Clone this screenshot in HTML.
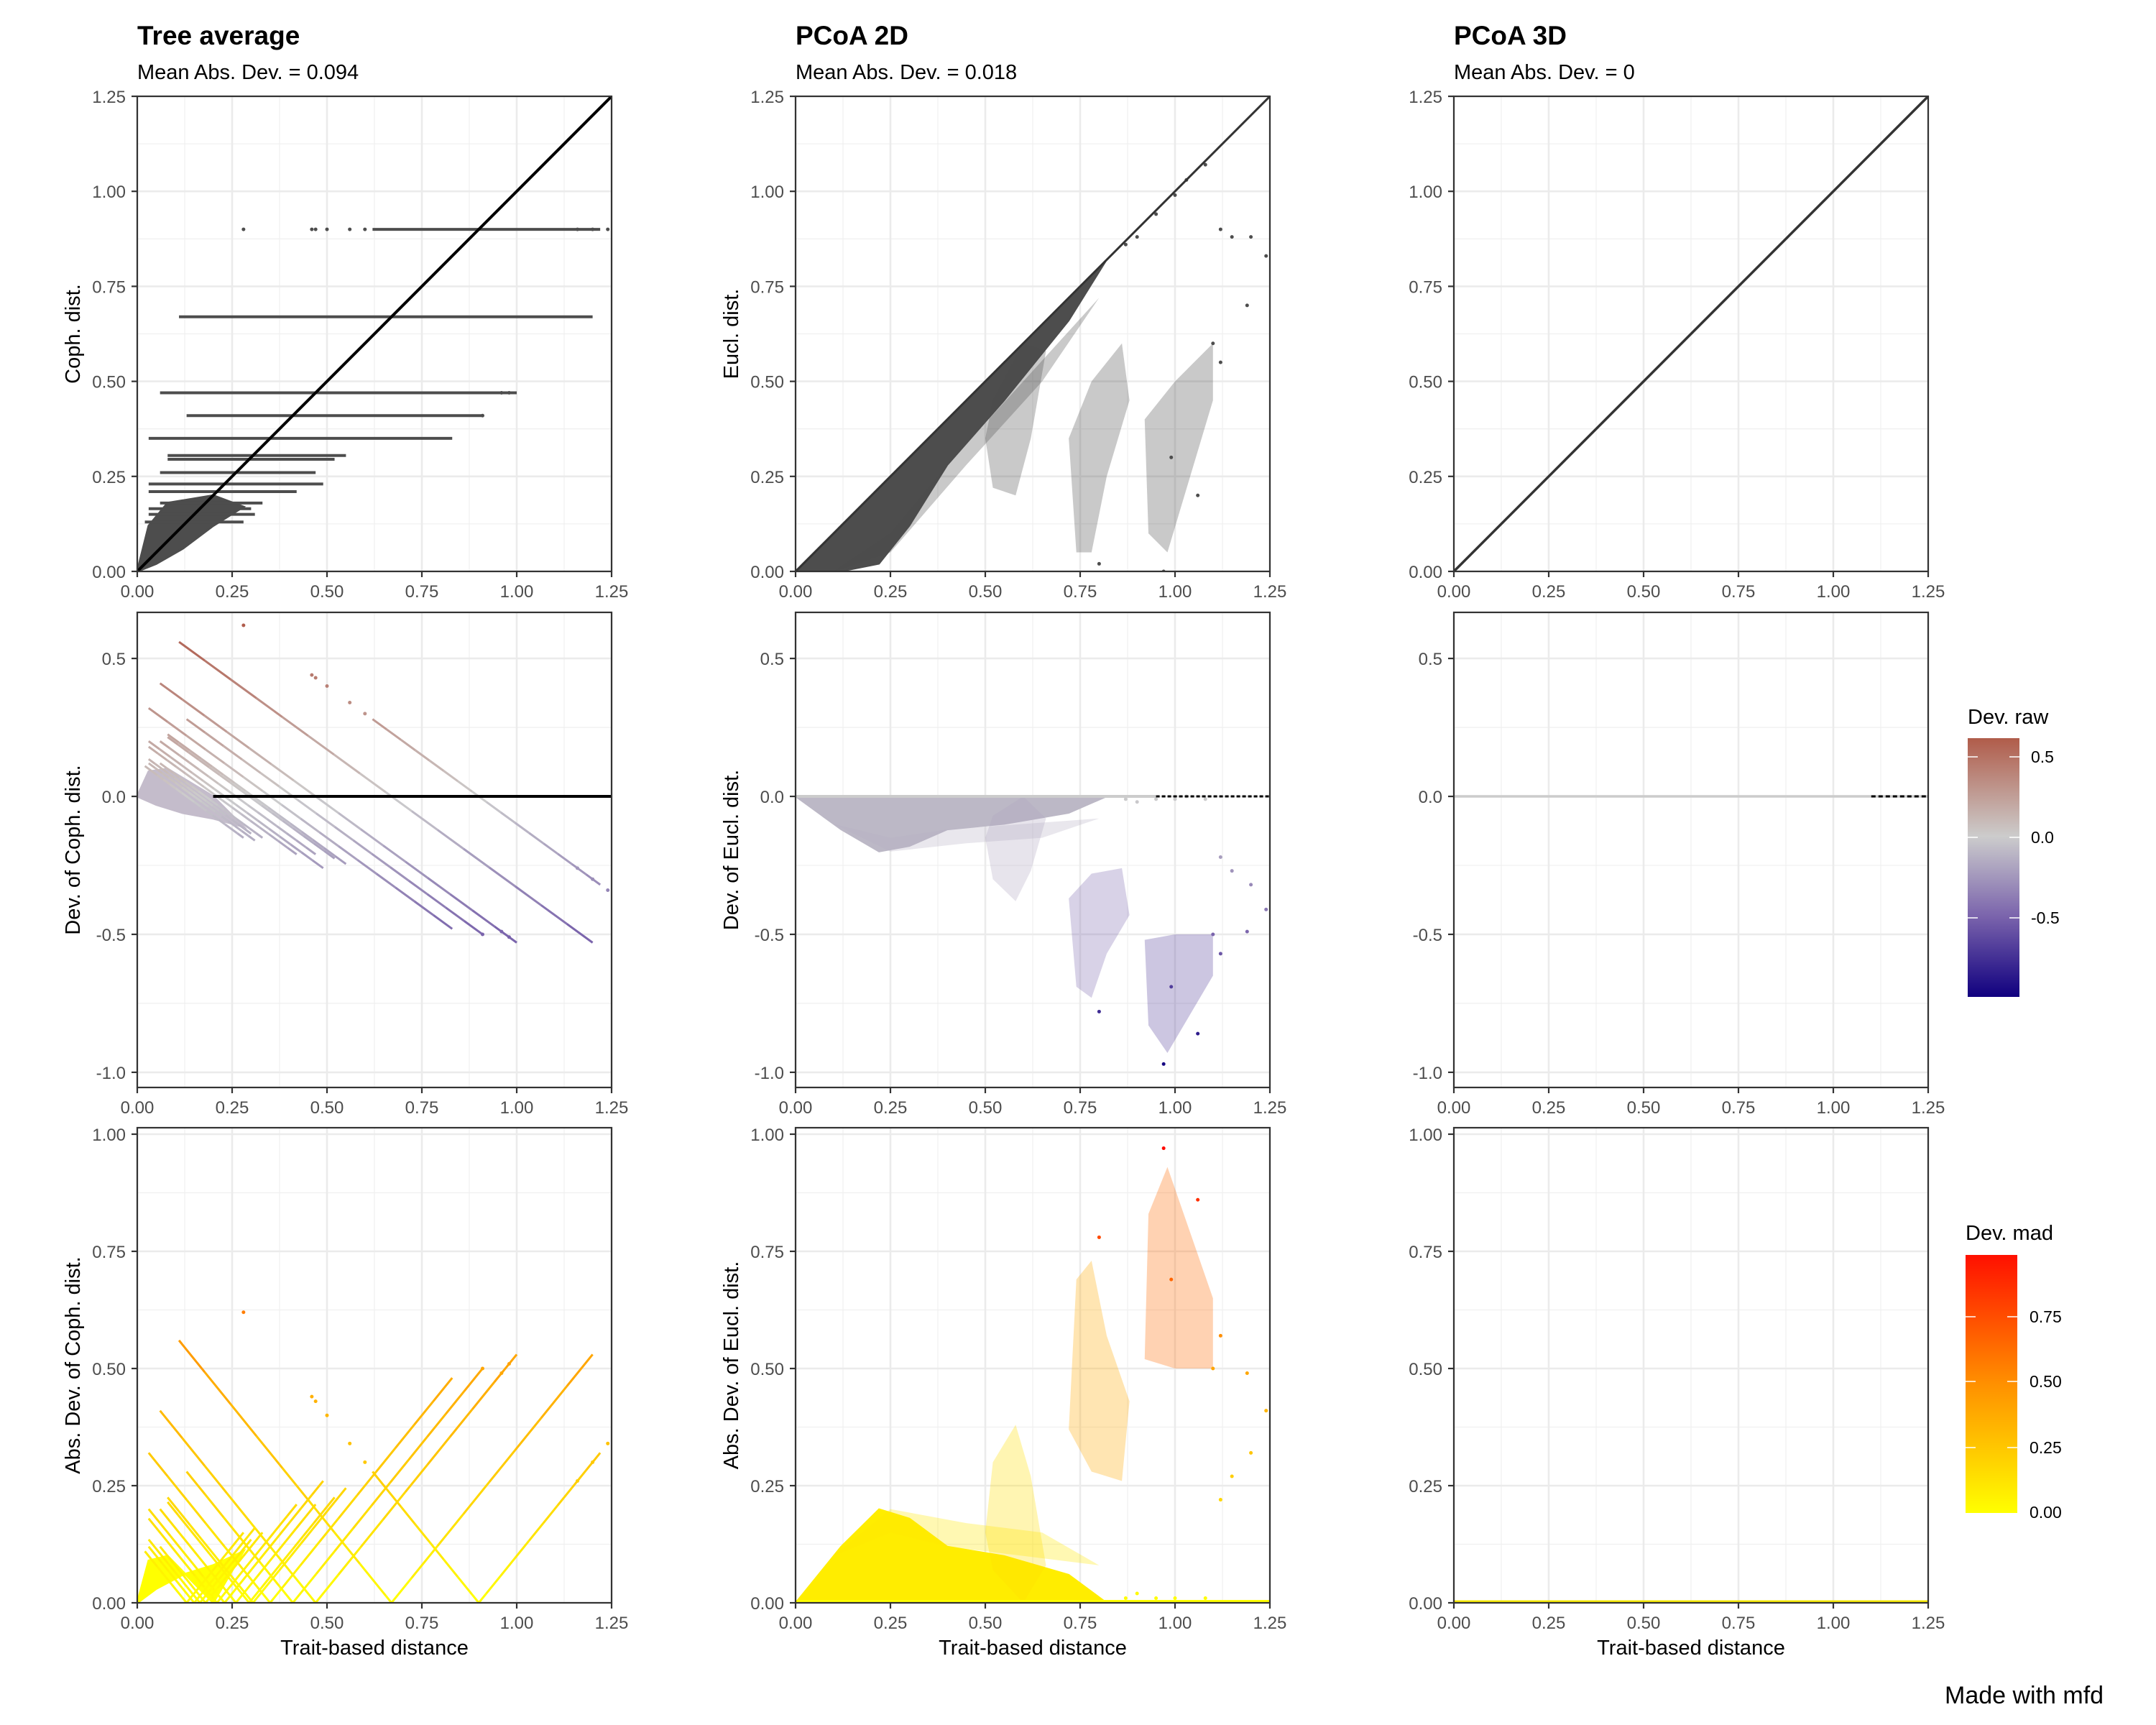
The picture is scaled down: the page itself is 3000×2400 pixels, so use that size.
<!DOCTYPE html>
<html><head><meta charset="utf-8"><style>
html,body{margin:0;padding:0;background:#fff}
svg{display:block;font-family:"Liberation Sans",Arial,sans-serif}
</style></head><body>
<svg id="fig" width="3000" height="2400" viewBox="0 0 3000 2400" xmlns="http://www.w3.org/2000/svg">
<defs>
<linearGradient id="gradRaw" x1="0" y1="0" x2="0" y2="1">
<stop offset="0" stop-color="#b05c4a"/><stop offset="0.38" stop-color="#cccccc"/><stop offset="0.69" stop-color="#7a63ac"/><stop offset="1" stop-color="#10007f"/>
</linearGradient>
<linearGradient id="gradMad" x1="0" y1="0" x2="0" y2="1">
<stop offset="0" stop-color="#ff1000"/><stop offset="0.5" stop-color="#ff9000"/><stop offset="1" stop-color="#ffff00"/>
</linearGradient>
</defs>
<g id="layer"></g>
<g>
<text x="2738" y="1007" font-size="29" fill="#000">Dev. raw</text>
<rect x="2738" y="1027" width="72" height="360" fill="url(#gradRaw)"/>
<g stroke="#fff" stroke-width="1.5"><line x1="2738" x2="2752" y1="1053" y2="1053"/><line x1="2796" x2="2810" y1="1053" y2="1053"/><line x1="2738" x2="2752" y1="1165" y2="1165"/><line x1="2796" x2="2810" y1="1165" y2="1165"/><line x1="2738" x2="2752" y1="1277" y2="1277"/><line x1="2796" x2="2810" y1="1277" y2="1277"/></g>
<g font-size="23" fill="#000"><text x="2826" y="1061">0.5</text><text x="2826" y="1173">0.0</text><text x="2826" y="1285">-0.5</text></g>
</g>
<g>
<text x="2735" y="1725" font-size="29" fill="#000">Dev. mad</text>
<rect x="2735" y="1746" width="72" height="359" fill="url(#gradMad)"/>
<g stroke="#fff" stroke-width="1.5"><line x1="2735" x2="2749" y1="1832" y2="1832"/><line x1="2793" x2="2807" y1="1832" y2="1832"/><line x1="2735" x2="2749" y1="1922" y2="1922"/><line x1="2793" x2="2807" y1="1922" y2="1922"/><line x1="2735" x2="2749" y1="2014" y2="2014"/><line x1="2793" x2="2807" y1="2014" y2="2014"/></g>
<g font-size="23" fill="#000"><text x="2824" y="1840">0.75</text><text x="2824" y="1930">0.50</text><text x="2824" y="2022">0.25</text><text x="2824" y="2112">0.00</text></g>
</g>
<text x="2706" y="2370" font-size="34" fill="#000">Made with mfd</text>
</svg>
<script>
// ---- data ----
const colTitles = ["Tree average", "PCoA 2D", "PCoA 3D"];
const colSubtitles = ["Mean Abs. Dev. = 0.094", "Mean Abs. Dev. = 0.018", "Mean Abs. Dev. = 0"];
const yTitlesCol1 = ["Coph. dist.", "Dev. of Coph. dist.", "Abs. Dev. of Coph. dist."];
const yTitlesCol2 = ["Eucl. dist.", "Dev. of Eucl. dist.", "Abs. Dev. of Eucl. dist."];
const xTicks = [0, 0.25, 0.5, 0.75, 1.0, 1.25];
const xTickLabels = ["0.00", "0.25", "0.50", "0.75", "1.00", "1.25"];
const yTicksRow1 = [0, 0.25, 0.5, 0.75, 1.0, 1.25];
const yTickLabelsRow1 = ["0.00", "0.25", "0.50", "0.75", "1.00", "1.25"];
const yTicksRow2 = [-1.0, -0.5, 0, 0.5];
const yTickLabelsRow2 = ["-1.0", "-0.5", "0.0", "0.5"];
const yTicksRow3 = [0, 0.25, 0.5, 0.75, 1.0];
const yTickLabelsRow3 = ["0.00", "0.25", "0.50", "0.75", "1.00"];
// Tree average: cophenetic levels and trait-distance extents of each horizontal band
const treeLevels = [0.90, 0.67, 0.47, 0.41, 0.35, 0.305, 0.295, 0.26, 0.23, 0.21, 0.18, 0.165, 0.15, 0.13];
const treeStart  = [0.62, 0.11, 0.06, 0.13, 0.03, 0.08, 0.08, 0.06, 0.03, 0.03, 0.06, 0.03, 0.03, 0.02];
const treeEnd    = [1.22, 1.20, 1.00, 0.91, 0.83, 0.55, 0.52, 0.47, 0.49, 0.42, 0.33, 0.30, 0.31, 0.28];
const treeOutX = [0.28, 0.46, 0.47, 0.5, 0.56, 0.6, 1.24, 1.2, 1.16, 0.91, 0.96, 0.98];
const treeOutY = [0.90, 0.90, 0.90, 0.90, 0.90, 0.90, 0.90, 0.90, 0.90, 0.41, 0.47, 0.47];
const treeBlobX = [0, 0.03, 0.08, 0.2, 0.28, 0.2, 0.12, 0.05];
const treeBlobY = [0, 0.12, 0.18, 0.2, 0.17, 0.12, 0.06, 0.02];
// PCoA 2D clusters (trait distance, euclidean distance) polygons; dense flag
const pcoaClusterX = [
  [0, 0.82, 0.72, 0.55, 0.40, 0.30, 0.22, 0.12],
  [0.10, 0.25, 0.45, 0.65, 0.80, 0.60, 0.40, 0.25],
  [0.50, 0.52, 0.60, 0.66, 0.62, 0.58, 0.52],
  [0.74, 0.72, 0.78, 0.86, 0.88, 0.82, 0.78],
  [0.93, 0.92, 1.00, 1.10, 1.10, 1.04, 0.98]
];
const pcoaClusterY = [
  [0, 0.82, 0.66, 0.45, 0.28, 0.12, 0.02, 0],
  [0, 0.05, 0.28, 0.50, 0.72, 0.50, 0.28, 0.10],
  [0.35, 0.45, 0.60, 0.58, 0.35, 0.20, 0.22],
  [0.05, 0.35, 0.50, 0.60, 0.45, 0.25, 0.05],
  [0.10, 0.40, 0.50, 0.60, 0.45, 0.25, 0.05]
];
const pcoaClusterDense = [1, 0, 0, 0, 0];
const pcoaOutX = [1.12, 1.15, 1.2, 1.24, 1.19, 0.87, 0.9, 0.95, 1.0, 1.03, 1.12, 1.1, 0.97, 0.8, 1.08, 1.06, 0.99];
const pcoaOutY = [0.9, 0.88, 0.88, 0.83, 0.7, 0.86, 0.88, 0.94, 0.99, 1.03, 0.55, 0.6, 0.0, 0.02, 1.07, 0.2, 0.3];
const pcoa3dBlackX = [1.1, 1.25];

// ---- layout ----
const colLeft = [191, 1107, 2023];
const rowTop = [134, 852, 1569];
const W = 660, H = 661;
const yRange = [[0, 1.25], [-1.055, 0.667], [0, 1.0138]];
const NS = "http://www.w3.org/2000/svg";
const layer = document.getElementById("layer");
function px(c, v) { return colLeft[c] + v / 1.25 * W; }
function py(r, v) { const lo = yRange[r][0], hi = yRange[r][1]; return rowTop[r] + H - (v - lo) / (hi - lo) * H; }
function mk(tag, attrs, parent) { const e = document.createElementNS(NS, tag); for (const k in attrs) e.setAttribute(k, attrs[k]); (parent || layer).appendChild(e); return e; }
function lerp(a, b, t) { return Math.round(a + (b - a) * t); }
function rawColor(v) {
  if (v >= 0) { const t = Math.min(v / 0.6, 1); return `rgb(${lerp(204,176,t)},${lerp(204,92,t)},${lerp(204,76,t)})`; }
  const t = Math.min(-v, 1);
  if (t < 0.5) { const u = t / 0.5; return `rgb(${lerp(204,122,u)},${lerp(204,100,u)},${lerp(204,172,u)})`; }
  const u = (t - 0.5) / 0.5; return `rgb(${lerp(122,16,u)},${lerp(100,0,u)},${lerp(172,127,u)})`;
}
function madColor(v) {
  const t = Math.min(Math.abs(v), 1);
  if (t < 0.5) return `rgb(255,${lerp(255,165,t/0.5)},0)`;
  return `rgb(255,${lerp(165,0,(t-0.5)/0.5)},0)`;
}
const yTicksAll = [yTicksRow1, yTicksRow2, yTicksRow3];
const yLabelsAll = [yTickLabelsRow1, yTickLabelsRow2, yTickLabelsRow3];

function drawPanel(c, r) {
  const g = mk("g", {});
  
  
  const L = colLeft[c], T = rowTop[r];
  mk("rect", { x: L, y: T, width: W, height: H, fill: "#fff" }, g);
  for (let i = 0; i < xTicks.length - 1; i++) {
    const m = (xTicks[i] + xTicks[i + 1]) / 2;
    mk("line", { x1: px(c, m), x2: px(c, m), y1: T, y2: T + H, stroke: "#f0f0f0", "stroke-width": 1.3 }, g);
  }
  const yt = yTicksAll[r];
  for (let i = 0; i < yt.length - 1; i++) {
    const m = (yt[i] + yt[i + 1]) / 2;
    mk("line", { x1: L, x2: L + W, y1: py(r, m), y2: py(r, m), stroke: "#f0f0f0", "stroke-width": 1.3 }, g);
  }
  xTicks.forEach(v => mk("line", { x1: px(c, v), x2: px(c, v), y1: T, y2: T + H, stroke: "#ebebeb", "stroke-width": 2.6 }, g));
  yt.forEach(v => mk("line", { x1: L, x2: L + W, y1: py(r, v), y2: py(r, v), stroke: "#ebebeb", "stroke-width": 2.6 }, g));
  const data = mk("g", {}, g);
  
  
  const clip = mk("clipPath", { id: "clip" + c + r }, g);
  mk("rect", { x: L, y: T, width: W, height: H }, clip);
  data.setAttribute("clip-path", "url(#clip" + c + r + ")");
  drawData(c, r, data);
  mk("rect", { x: L, y: T, width: W, height: H, fill: "none", stroke: "#333", "stroke-width": 2.2 }, g);
  xTicks.forEach((v, i) => {
    mk("line", { x1: px(c, v), x2: px(c, v), y1: T + H, y2: T + H + 8, stroke: "#333", "stroke-width": 2.2 }, g);
    const t = mk("text", { x: px(c, v), y: T + H + 36, "text-anchor": "middle", "font-size": 24, fill: "#4d4d4d" }, g);
    t.textContent = xTickLabels[i];
    
    
  });
  yt.forEach((v, i) => {
    mk("line", { x1: L - 8, x2: L, y1: py(r, v), y2: py(r, v), stroke: "#333", "stroke-width": 2.2 }, g);
    const t = mk("text", { x: L - 16, y: py(r, v) + 9, "text-anchor": "end", "font-size": 24, fill: "#4d4d4d" }, g);
    t.textContent = yLabelsAll[r][i];
    
    
  });
  if (c < 2) {
    const cy = T + H / 2, cx = L - 80;
    const t = mk("text", { x: cx, y: cy, "text-anchor": "middle", "font-size": 29, fill: "#000", transform: `rotate(-90 ${cx} ${cy})` }, g);
    t.textContent = (c === 0 ? yTitlesCol1 : yTitlesCol2)[r];
    
    
  }
  if (r === 2) {
    const t = mk("text", { x: L + W / 2, y: 2302, "text-anchor": "middle", "font-size": 29, fill: "#000" }, g);
    t.textContent = "Trait-based distance";
    
    
  }
  if (r === 0) {
    const t = mk("text", { x: L, y: 62, "font-size": 37, "font-weight": "bold", fill: "#000" }, g);
    t.textContent = colTitles[c];
    
    
    const s = mk("text", { x: L, y: 110, "font-size": 29, fill: "#000" }, g);
    s.textContent = colSubtitles[c];
    
    
  }
}

function yval(r, x, y) { return r === 0 ? y : (r === 1 ? y - x : Math.abs(y - x)); }

function drawData(c, r, g) {
  if (c === 0) {
    const pts = treeBlobX.map((x, i) => px(c, x) + "," + py(r, yval(r, x, treeBlobY[i]))).join(" ");
    const bc = r === 0 ? "#4d4d4d" : (r === 1 ? "#c4bccb" : "#ffff00");
    const blob = mk("polygon", { points: pts, fill: bc, stroke: bc, "stroke-width": 3 }, g);
    
    
    treeLevels.forEach((lv, i) => {
      const x0 = treeStart[i], x1 = treeEnd[i];
      const n = r === 0 ? 1 : 16;
      for (let k = 0; k < n; k++) {
        const a = x0 + (x1 - x0) * k / n, b = x0 + (x1 - x0) * (k + 1) / n;
        const mid = (a + b) / 2;
        const col = r === 0 ? "#4d4d4d" : (r === 1 ? rawColor(lv - mid) : madColor(lv - mid));
        const pieces = (r === 2 && a < lv && b > lv) ? [[a, lv], [lv, b]] : [[a, b]];
        pieces.forEach(p => {
          const s = mk("line", { x1: px(c, p[0]), y1: py(r, yval(r, p[0], lv)), x2: px(c, p[1]), y2: py(r, yval(r, p[1], lv)), stroke: col, "stroke-width": r === 0 ? 4 : 3 }, g);
          
          
        });
      }
    });
    treeOutX.forEach((x, i) => {
      const v = yval(r, x, treeOutY[i]);
      const p = mk("circle", { cx: px(c, x), cy: py(r, v), r: 2.5, fill: r === 0 ? "#4d4d4d" : (r === 1 ? rawColor(v) : madColor(v)) }, g);
      
      
    });
    if (r === 0) {
      const d = mk("line", { x1: px(c, 0), y1: py(r, 0), x2: px(c, 1.25), y2: py(r, 1.25), stroke: "#000", "stroke-width": 4 }, g);
      
      
    } else if (r === 1) {
      const z = mk("line", { x1: px(c, 0.2), y1: py(r, 0), x2: px(c, 1.25), y2: py(r, 0), stroke: "#000", "stroke-width": 4 }, g);
      
      
    }
  } else if (c === 1) {
    pcoaClusterX.forEach((xs, k) => {
      const ys = pcoaClusterY[k];
      const pts = xs.map((x, i) => px(c, x) + "," + py(r, yval(r, x, ys[i]))).join(" ");
      let mean = 0; xs.forEach((x, i) => mean += ys[i] - x); mean /= xs.length;
      const col = r === 0 ? "#4d4d4d" : (r === 1 ? rawColor(mean) : madColor(mean));
      const dense = pcoaClusterDense[k] === 1;
      const p = mk("polygon", { points: pts, fill: col, "fill-opacity": dense ? 1 : 0.3, stroke: dense ? col : "none", "stroke-width": 2 }, g);
      
      
    });
    pcoaOutX.forEach((x, i) => {
      const v = yval(r, x, pcoaOutY[i]);
      const p = mk("circle", { cx: px(c, x), cy: py(r, v), r: 2.5, fill: r === 0 ? "#4d4d4d" : (r === 1 ? rawColor(v) : madColor(v)) }, g);
      
      
    });
    if (r === 0) {
      const d = mk("line", { x1: px(c, 0), y1: py(r, 0), x2: px(c, 1.25), y2: py(r, 1.25), stroke: "#333", "stroke-width": 3 }, g);
      
      
    } else if (r === 1) {
      const z1 = mk("line", { x1: px(c, 0), y1: py(r, 0), x2: px(c, 0.95), y2: py(r, 0), stroke: "#cccccc", "stroke-width": 4 }, g);
      
      
      const z2 = mk("line", { x1: px(c, 0.95), y1: py(r, 0), x2: px(c, 1.25), y2: py(r, 0), stroke: "#000", "stroke-width": 3, "stroke-dasharray": "5 3" }, g);
      
      
    } else {
      const z = mk("line", { x1: px(c, 0), y1: py(r, 0) - 2, x2: px(c, 1.25), y2: py(r, 0) - 2, stroke: "#ffff00", "stroke-width": 4 }, g);
      
      
    }
  } else {
    if (r === 0) {
      const d = mk("line", { x1: px(c, 0), y1: py(r, 0), x2: px(c, 1.25), y2: py(r, 1.25), stroke: "#333", "stroke-width": 3.5 }, g);
      
      
    } else if (r === 1) {
      const z = mk("line", { x1: px(c, 0), y1: py(r, 0), x2: px(c, 1.25), y2: py(r, 0), stroke: "#cccccc", "stroke-width": 3.5 }, g);
      
      
      const b = mk("line", { x1: px(c, pcoa3dBlackX[0]), y1: py(r, 0), x2: px(c, pcoa3dBlackX[1]), y2: py(r, 0), stroke: "#000", "stroke-width": 3, "stroke-dasharray": "6 4" }, g);
      
      
    } else {
      const z = mk("line", { x1: px(c, 0), y1: py(r, 0) - 2, x2: px(c, 1.25), y2: py(r, 0) - 2, stroke: "#f5e800", "stroke-width": 3 }, g);
      
      
    }
  }
}

for (let r = 0; r < 3; r++) for (let c = 0; c < 3; c++) drawPanel(c, r);
</script>
</body></html>
